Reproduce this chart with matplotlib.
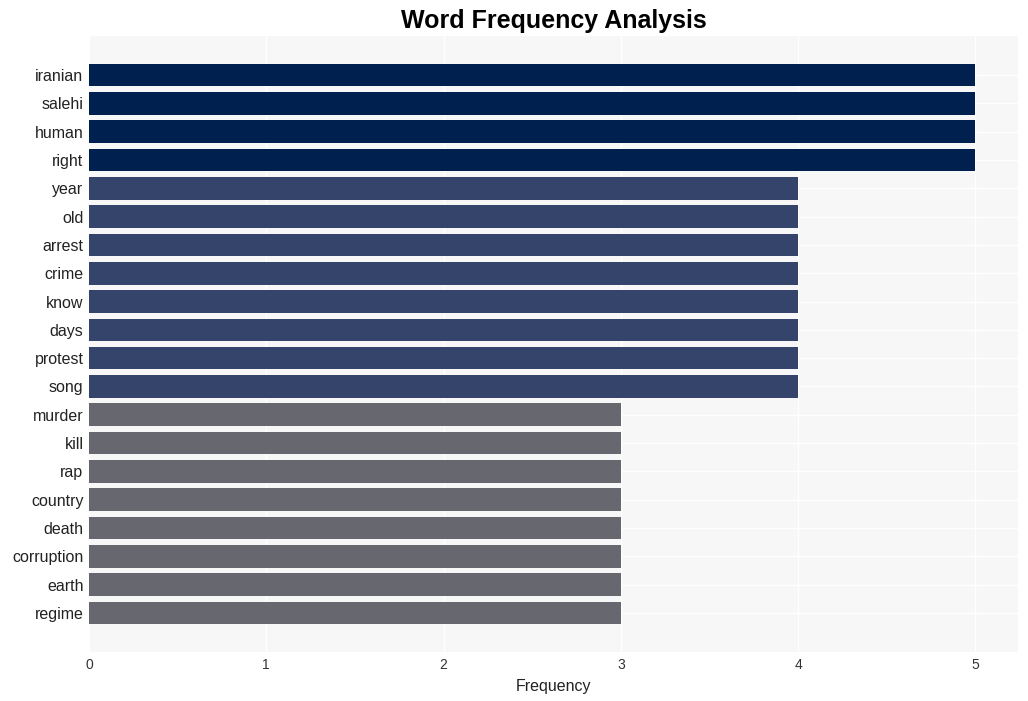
import numpy as np
import matplotlib
matplotlib.use("Agg")
import matplotlib.pyplot as plt

plt.rcParams["font.family"] = ["Liberation Sans", "DejaVu Sans"]

words = ["iranian", "salehi", "human", "right", "year", "old", "arrest", "crime",
         "know", "days", "protest", "song", "murder", "kill", "rap", "country",
         "death", "corruption", "earth", "regime"]
freqs = [5, 5, 5, 5, 4, 4, 4, 4, 4, 4, 4, 4, 3, 3, 3, 3, 3, 3, 3, 3]

palette = {5: "#00204f", 4: "#35446a", 3: "#66676f"}
colors = [palette[f] for f in freqs]

fig = plt.figure(figsize=(10.28, 7.01), dpi=100)
ax = fig.add_axes([89 / 1028, 49 / 701, 929 / 1028, 616 / 701])
ax.set_facecolor("#f7f7f7")

y = np.arange(len(words))
ax.barh(y, freqs, height=0.8, color=colors, zorder=3)
ax.set_yticks(y)
ax.set_yticklabels(words, fontsize=11.5, color="#222222")
ax.set_ylim(20.38, -1.38)
ax.set_xlim(0, 5.24)
ax.set_xticks(range(6))
ax.tick_params(axis="x", labelsize=10, colors="#333333", length=0, pad=4)
ax.tick_params(axis="y", length=0, pad=4)
ax.grid(True, color="white", lw=1, zorder=0)
for s in ax.spines.values():
    s.set_visible(False)
ax.set_xlabel("Frequency", fontsize=11.5, color="#222222", labelpad=5)
ax.set_title("Word Frequency Analysis", fontsize=18, fontweight="bold", pad=6)

fig.savefig("out.png", dpi=100)
